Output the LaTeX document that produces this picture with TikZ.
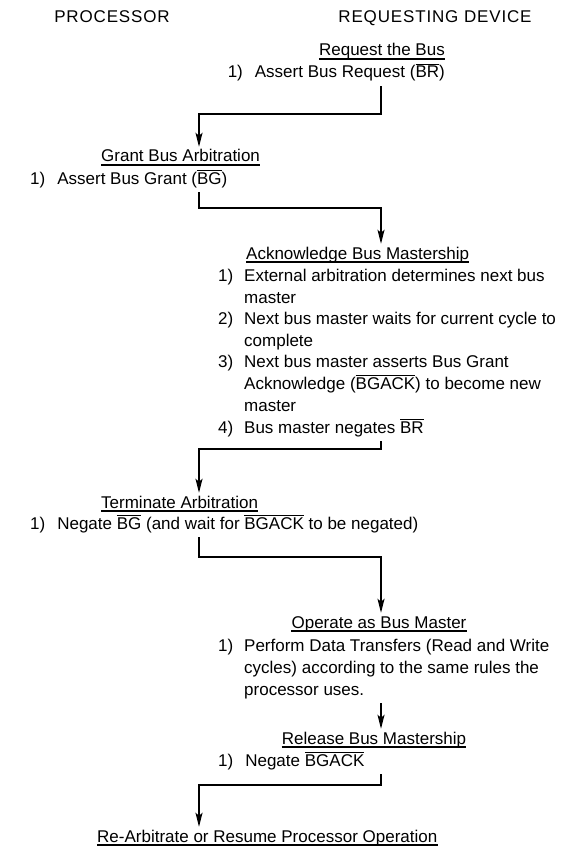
\documentclass[tikz,border=0pt]{standalone}
\usepackage{fontspec}
\setmainfont{Liberation Sans}
\usetikzlibrary{arrows.meta}
\newcommand\ovl[1]{\leavevmode\vbox{\hrule height 1pt\kern 1.6pt\hbox{#1}}}
\begin{document}
\begin{tikzpicture}[x=1pt,y=-1pt,
  txt/.style={inner sep=0pt, anchor=base west, text height=12pt, text depth=4pt,
              font=\fontsize{17}{20}\selectfont},
  hdr/.style={txt, anchor=base, font=\fontsize{17}{20}\selectfont\addfontfeatures{LetterSpace=5}},
  flow/.style={line width=1.7pt, shorten <=4pt, shorten >=3pt,
               -{Stealth[length=14pt,width=7pt,inset=3pt]}},
  ul/.style={line width=1.1pt}]
\fill[white] (0,0) rectangle (562,853);
\useasboundingbox (0,0) rectangle (562,853);
% column coordinates
\coordinate (xL) at (199,0);
\coordinate (xR) at (381,0);
% headers
\node[hdr] (hp) at (112,23) {PROCESSOR};
\node[hdr] (hr) at (435,23) {REQUESTING DEVICE};
% request
\node[txt, anchor=base east] (req) at (445,56) {Request the Bus};
\draw[ul] ([yshift=-3pt]req.base west) -- ([yshift=-3pt]req.base east);
\node[txt, anchor=base east] (reqi) at (445,78) {1)\hspace{12pt}Assert Bus Request (\ovl{BR})};
% grant
\node[txt] (grant) at (101,162) {Grant Bus Arbitration};
\draw[ul] ([yshift=-3pt]grant.base west) -- ([yshift=-3pt]grant.base east);
\node[txt] (granti) at (30,184) {1)\hspace{12pt}Assert Bus Grant (\ovl{BG})};
% acknowledge
\node[txt] (ack) at (246,259) {Acknowledge Bus Mastership};
\draw[ul] ([yshift=-3pt]ack.base west) -- ([yshift=-3pt]ack.base east);
\node[txt] (na1) at (218,281) {1)};
\node[txt] (a1) at (244,281) {External arbitration determines next bus};
\node[txt] (a1b) at (244,303) {master};
\node[txt] (na2) at (218,324) {2)};
\node[txt] (a2) at (244,324) {Next bus master waits for current cycle to};
\node[txt] (a2b) at (244,346) {complete};
\node[txt] (na3) at (218,367) {3)};
\node[txt] (a3) at (244,367) {Next bus master asserts Bus Grant};
\node[txt] (a3b) at (244,389) {Acknowledge (\ovl{BGACK}) to become new};
\node[txt] (a3c) at (244,411) {master};
\node[txt] (na4) at (218,433) {4)};
\node[txt] (a4) at (244,433) {Bus master negates \ovl{BR}};
% terminate
\node[txt] (term) at (101,508) {Terminate Arbitration};
\draw[ul] ([yshift=-3pt]term.base west) -- ([yshift=-3pt]term.base east);
\node[txt] (termi) at (30,529) {1)\hspace{12pt}Negate \ovl{BG} (and wait for \ovl{BGACK} to be negated)};
% operate
\node[txt, anchor=base] (op) at (379,628) {Operate as Bus Master};
\draw[ul] ([yshift=-3pt]op.base west) -- ([yshift=-3pt]op.base east);
\node[txt] (np1) at (218,651) {1)};
\node[txt] (p1) at (244,651) {Perform Data Transfers (Read and Write};
\node[txt] (p2) at (244,673) {cycles) according to the same rules the};
\node[txt] (p3) at (244,695) {processor uses.};
% release
\node[txt, anchor=base] (rel) at (374,744) {Release Bus Mastership};
\draw[ul] ([yshift=-3pt]rel.base west) -- ([yshift=-3pt]rel.base east);
\node[txt] (reli) at (218,766) {1)\hspace{12pt}Negate \ovl{BGACK}};
% final
\node[txt] (fin) at (97,842) {Re-Arbitrate or Resume Processor Operation};
\draw[ul] ([yshift=-3pt]fin.base west) -- ([yshift=-3pt]fin.base east);
% bends
\coordinate (b1) at (199,114);
\coordinate (b2) at (381,208);
\coordinate (b3) at (199,449);
\coordinate (b4) at (381,557);
\coordinate (b6) at (199,785);
% connectors
\draw[flow] (reqi.south -| xR) |- (b1) -- (grant.north -| xL);
\draw[flow] (granti.south -| xL) |- (b2) -- (ack.north -| xR);
\draw[flow] (a4.south -| xR) |- (b3) -- (term.north -| xL);
\draw[flow] (termi.south -| xL) |- (b4) -- (op.north -| xR);
\draw[flow] (p3.south -| xR) -- (rel.north -| xR);
\draw[flow] (reli.south -| xR) |- (b6) -- (fin.north -| xL);
\end{tikzpicture}
\end{document}
